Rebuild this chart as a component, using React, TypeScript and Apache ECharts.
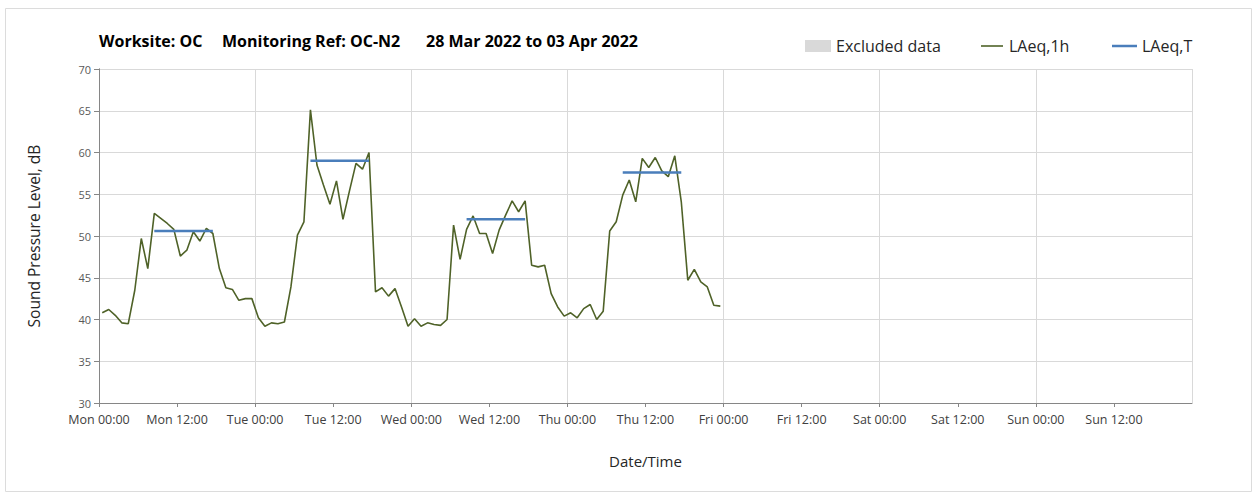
import React, { useEffect, useRef } from "react";
import * as echarts from "echarts";

// Hourly LAeq,1h values, Mon 00:00 .. Thu 23:00 (one per hour, plotted mid-hour)
const laeq1hMon = [40.8, 41.2, 40.5, 39.6, 39.5, 43.5, 49.7, 46.1, 52.7, 52.1, 51.5, 50.8, 47.6, 48.3, 50.5, 49.4, 50.9, 50.3, 46.1, 43.8, 43.6, 42.3, 42.5, 42.5];
const laeq1hTue = [40.2, 39.2, 39.6, 39.5, 39.7, 43.9, 50.1, 51.7, 65.1, 58.5, 56.1, 53.8, 56.6, 52.0, 55.4, 58.7, 58.0, 60.0, 43.3, 43.8, 42.8, 43.7, 41.5, 39.2];
const laeq1hWed = [40.1, 39.2, 39.6, 39.4, 39.3, 40.0, 51.3, 47.2, 50.8, 52.4, 50.3, 50.3, 47.9, 50.7, 52.5, 54.2, 52.9, 54.2, 46.5, 46.3, 46.5, 43.1, 41.5, 40.4];
const laeq1hThu = [40.8, 40.2, 41.3, 41.8, 40.0, 41.0, 50.6, 51.7, 54.9, 56.7, 54.1, 59.3, 58.2, 59.4, 57.8, 57.1, 59.6, 54.1, 44.7, 46.0, 44.5, 43.9, 41.7, 41.6];
const laeq1h = [...laeq1hMon, ...laeq1hTue, ...laeq1hWed, ...laeq1hThu];
const hourOffset = 0.5;

// LAeq,T daytime periods (hours from Mon 00:00)
const periodStart = [8.5, 32.5, 56.5, 80.5];
const periodEnd = [17.5, 41.5, 65.5, 89.5];
const laeqT = [50.6, 59.0, 52.0, 57.6];

const tickLabels = [
  "Mon 00:00", "Mon 12:00", "Tue 00:00", "Tue 12:00", "Wed 00:00", "Wed 12:00",
  "Thu 00:00", "Thu 12:00", "Fri 00:00", "Fri 12:00", "Sat 00:00", "Sat 12:00",
  "Sun 00:00", "Sun 12:00",
];

const FONT = "'Open Sans', 'Noto Sans', sans-serif";

export default function App() {
  const ref = useRef<HTMLDivElement>(null);

  useEffect(() => {
    if (!ref.current) return;
    const chart = echarts.init(ref.current, undefined, { renderer: "svg" });

    const lineData = laeq1h.map((v, i) => [i + hourOffset, v]);
    const tData: any[] = [];
    laeqT.forEach((v, i) => {
      if (i > 0) tData.push(["-", "-"]);
      tData.push([periodStart[i], v]);
      tData.push([periodEnd[i], v]);
    });

    const titleStyle = { fontSize: 16, fontWeight: "bold", fontFamily: FONT, fill: "#000", verticalAlign: "middle" };

    const option: any = {
      animation: false,
      backgroundColor: "#ffffff",
      textStyle: { fontFamily: FONT },
      grid: { left: 99, right: 61, top: 69, bottom: 90, containLabel: false },
      graphic: [
        {
          type: "rect",
          shape: { x: 5.5, y: 8.5, width: 1246, height: 483 },
          style: { fill: "none", stroke: "#dcdcdc", lineWidth: 1 },
          silent: true,
        },
        { type: "text", x: 99, y: 41, style: { ...titleStyle, text: "Worksite: OC" } },
        { type: "text", x: 222, y: 41, style: { ...titleStyle, text: "Monitoring Ref: OC-N2" } },
        { type: "text", x: 426, y: 41, style: { ...titleStyle, text: "28 Mar 2022 to 03 Apr 2022" } },
      ],
      legend: [
        {
          data: ["Excluded data"], left: 805, top: 38, icon: "rect", itemWidth: 26, itemHeight: 12,
          textStyle: { fontSize: 16, color: "#262626", fontFamily: FONT }, padding: 0,
        },
        {
          data: ["LAeq,1h"], left: 981, top: 38, icon: "rect", itemWidth: 22, itemHeight: 1.6,
          textStyle: { fontSize: 16, color: "#262626", fontFamily: FONT, padding: [0, 0, 0, 1] }, padding: 0,
        },
        {
          data: ["LAeq,T"], left: 1112, top: 38, icon: "rect", itemWidth: 25, itemHeight: 2.5,
          textStyle: { fontSize: 16, color: "#262626", fontFamily: FONT }, padding: 0,
        },
      ],
      xAxis: [
        {
          type: "value", min: 0, max: 168, interval: 12,
          name: "Date/Time", nameLocation: "middle", nameGap: 50,
          nameTextStyle: { fontSize: 15, color: "#262626", fontFamily: FONT },
          axisLine: { show: true, lineStyle: { color: "#868686", width: 1 } },
          axisTick: { show: true, length: 4, lineStyle: { color: "#868686" } },
          axisLabel: {
            showMaxLabel: false, fontSize: 12.5, color: "#404040", margin: 10, fontFamily: FONT,
            formatter: (v: number) => tickLabels[Math.round(v / 12)] ?? "",
          },
          splitLine: { show: false },
        },
        {
          type: "value", min: 0, max: 168, interval: 24, position: "bottom",
          axisLine: { show: false }, axisTick: { show: false }, axisLabel: { show: false },
          splitLine: { show: true, lineStyle: { color: "#d9d9d9", width: 1 } },
        },
      ],
      yAxis: [
        {
          type: "value", min: 30, max: 70, interval: 5,
          name: "Sound Pressure Level, dB", nameLocation: "middle", nameGap: 57,
          nameTextStyle: { fontSize: 15.5, color: "#262626", fontFamily: FONT },
          axisLine: { show: true, lineStyle: { color: "#868686", width: 1 } },
          axisTick: { show: true, length: 5, lineStyle: { color: "#868686" } },
          axisLabel: { fontSize: 11, color: "#595959", margin: 8, fontFamily: FONT },
          splitLine: { show: true, lineStyle: { color: "#d9d9d9", width: 1 } },
        },
        {
          type: "value", min: 30, max: 70, interval: 5, position: "right",
          axisLine: { show: true, lineStyle: { color: "#868686", width: 1 } },
          axisTick: { show: false }, axisLabel: { show: false }, splitLine: { show: false },
        },
      ],
      series: [
        {
          name: "Excluded data", type: "bar", data: [],
          itemStyle: { color: "#d9d9d9" },
        },
        {
          name: "LAeq,1h", type: "line", data: lineData, symbol: "none",
          lineStyle: { color: "#4f6228", width: 1.6 }, itemStyle: { color: "#4f6228" },
          z: 3,
        },
        {
          name: "LAeq,T", type: "line", data: tData, symbol: "none", connectNulls: false,
          lineStyle: { color: "#4a7ebb", width: 2.5 }, itemStyle: { color: "#4a7ebb" },
          z: 4,
        },
      ],
    };

    chart.setOption(option);
    return () => chart.dispose();
  }, []);

  return (
    <div
      ref={ref}
      style={{ position: "fixed", left: 0, top: 0, width: 1253, height: 493 }}
    />
  );
}
